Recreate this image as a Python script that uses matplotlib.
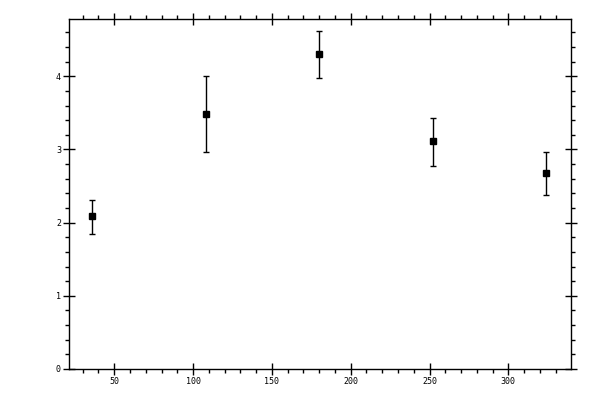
import numpy as np
import matplotlib
matplotlib.use("Agg")
import matplotlib.pyplot as plt
from matplotlib.ticker import MultipleLocator

# values
x = [36, 108, 180, 252, 324]
y = [2.09, 3.49, 4.30, 3.11, 2.68]
y_lo = [1.84, 2.97, 3.97, 2.77, 2.38]
y_hi = [2.31, 4.00, 4.62, 3.43, 2.97]

yerr = [np.array(y) - np.array(y_lo), np.array(y_hi) - np.array(y)]

fig = plt.figure(figsize=(6, 4), dpi=100)
ax = fig.add_axes([0.1155, 0.0775, 0.951 - 0.1155, 0.952 - 0.0775])

ax.errorbar(x, y, yerr=yerr, fmt='s', color='black', ms=5, mec='black',
            elinewidth=1, capsize=2, capthick=1)

ax.set_xlim(21.5, 339.5)
ax.set_ylim(0, 4.78)

ax.xaxis.set_major_locator(MultipleLocator(50))
ax.xaxis.set_minor_locator(MultipleLocator(10))
ax.yaxis.set_major_locator(MultipleLocator(1))
ax.yaxis.set_minor_locator(MultipleLocator(0.2))

for sp in ax.spines.values():
    sp.set_linewidth(1)

ax.tick_params(which='major', direction='inout', length=8, width=1,
               top=True, right=True, labeltop=False, labelright=False,
               labelsize=6, pad=2)
ax.tick_params(which='minor', direction='out', length=3, width=1,
               top=True, right=True)

for lab in ax.get_xticklabels() + ax.get_yticklabels():
    lab.set_family('DejaVu Sans Mono')

fig.savefig('out.png', dpi=100)
